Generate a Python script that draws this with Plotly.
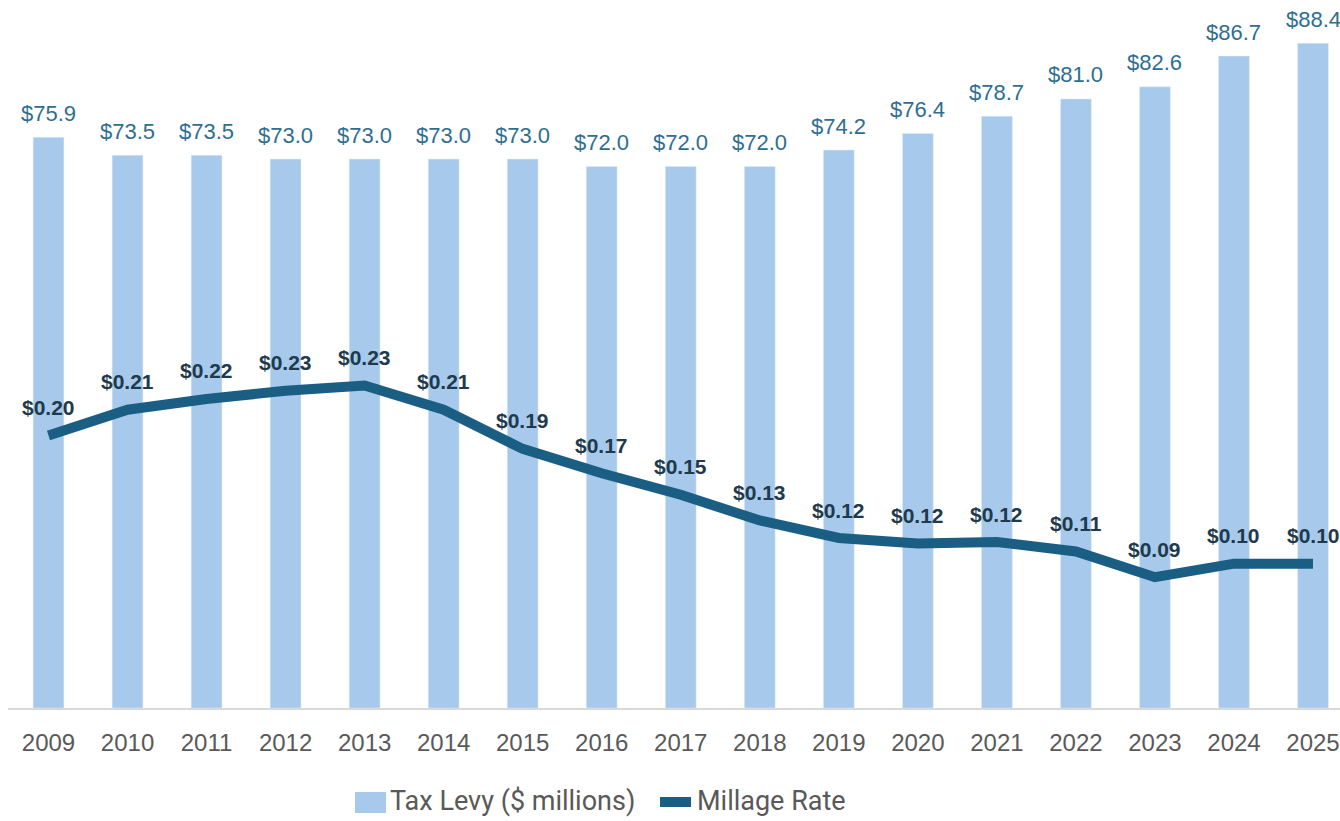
import plotly.graph_objects as go

years = ["2009", "2010", "2011", "2012", "2013", "2014", "2015", "2016", "2017",
         "2018", "2019", "2020", "2021", "2022", "2023", "2024", "2025"]
tax_levy = [75.9, 73.5, 73.5, 73.0, 73.0, 73.0, 73.0, 72.0, 72.0,
            72.0, 74.2, 76.4, 78.7, 81.0, 82.6, 86.7, 88.4]
millage_rate = [0.196, 0.215, 0.223, 0.229, 0.233, 0.215, 0.186, 0.168, 0.152,
                0.133, 0.120, 0.116, 0.117, 0.110, 0.091, 0.101, 0.101]

W, H = 1340, 821
PLOT_L, PLOT_T, PLOT_B = 8, 0, 708

BAR_COLOR = "#A7C9EB"
BAR_TEXT = "#2E6E90"
LINE_COLOR = "#1B5E84"
LINE_TEXT = "#1E3A4C"
TICK_COLOR = "#595959"


def px_x(x):
    return (x - PLOT_L) / (W - PLOT_L)


def px_y(y):
    return (PLOT_B - y) / (PLOT_B - PLOT_T)


fig = go.Figure()
fig.add_trace(go.Bar(x=years, y=tax_levy, marker_color=BAR_COLOR,
                     name="Tax Levy ($ millions)", showlegend=False))
fig.add_trace(go.Scatter(x=years, y=millage_rate, yaxis="y2", mode="lines",
                         line=dict(color=LINE_COLOR, width=10),
                         name="Millage Rate", showlegend=False))

annotations = []
for i, v in enumerate(tax_levy):
    annotations.append(dict(x=i, y=v, xref="x", yref="y", text=f"${v:.1f}",
                            showarrow=False, yanchor="middle", yshift=24,
                            font=dict(size=22, color=BAR_TEXT, family="Liberation Sans, Arial")))
for i, v in enumerate(millage_rate):
    annotations.append(dict(x=i, y=v, xref="x", yref="y2", text=f"<b>${v:.2f}</b>",
                            showarrow=False, yanchor="middle", yshift=28,
                            font=dict(size=21, color=LINE_TEXT, family="Liberation Sans, Arial")))

# legend drawn by hand so the symbols can match the large legend text
legend_font = dict(size=27, color=TICK_COLOR,
                   family="Liberation Sans Narrow, Arial Narrow, Roboto, sans-serif")
annotations.append(dict(x=px_x(388), y=px_y(801), xref="paper", yref="paper",
                        text="Tax Levy ($ millions)", showarrow=False,
                        xanchor="left", yanchor="middle", font=legend_font))
annotations.append(dict(x=px_x(695), y=px_y(801), xref="paper", yref="paper",
                        text="Millage Rate", showarrow=False,
                        xanchor="left", yanchor="middle", font=legend_font))
shapes = [
    dict(type="rect", xref="paper", yref="paper",
         x0=px_x(355), x1=px_x(386), y0=px_y(813), y1=px_y(792),
         fillcolor=BAR_COLOR, line=dict(width=0)),
    dict(type="line", xref="paper", yref="paper",
         x0=px_x(660), x1=px_x(691), y0=px_y(802), y1=px_y(802),
         line=dict(color=LINE_COLOR, width=10)),
]

cat_w = (1313 - 48.5) / 16
x0 = -(48.5 - PLOT_L) / cat_w
x1 = x0 + (W - PLOT_L) / cat_w

fig.update_layout(
    width=W, height=H,
    margin=dict(l=PLOT_L, r=0, t=PLOT_T, b=H - PLOT_B),
    paper_bgcolor="white", plot_bgcolor="white",
    bargap=0.61,
    showlegend=False,
    xaxis=dict(type="category", range=[x0, x1], showgrid=False, showline=True,
               linecolor="#D9D9D9", linewidth=2, ticks="",
               tickfont=dict(size=24, color=TICK_COLOR, family="Liberation Sans, Arial"),
               ticklabelstandoff=12),
    yaxis=dict(range=[0, PLOT_B / 7.52], visible=False, showgrid=False),
    yaxis2=dict(range=[-8 / 1350, (PLOT_B - 8) / 1350], overlaying="y", visible=False,
                showgrid=False),
    annotations=annotations,
    shapes=shapes,
)

fig.write_html("out.html", config={"displayModeBar": False},
               post_script="document.body.style.margin='0';")
